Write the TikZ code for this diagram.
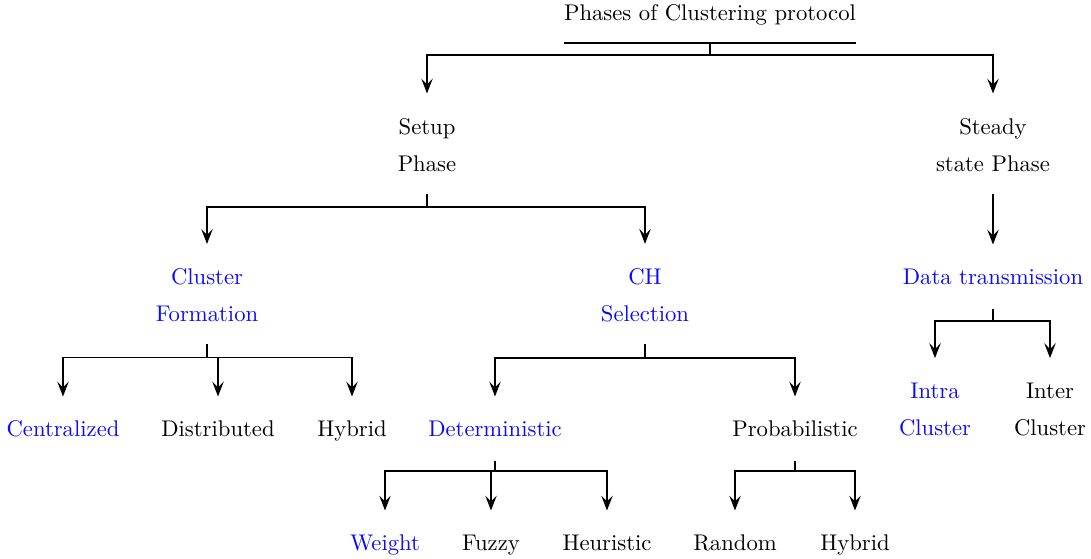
\documentclass[tikz,border=0pt]{standalone}
\usepackage{tikz}
\usetikzlibrary{arrows.meta}
\definecolor{cBlue}{HTML}{0A0AFF}

\begin{document}
\begin{tikzpicture}[x=0.441pt,y=-0.441pt,
  one/.style={inner sep=0pt,text height=1.5ex,text depth=.25ex},
  two/.style={inner sep=0pt,align=center},
  hi/.style={text=cBlue},
  ar/.style={-{Stealth[length=6.5pt,width=5pt,inset=2.5pt]},thick,
             shorten <=9.5pt,shorten >=10.8pt}]
\useasboundingbox (0,0) rectangle (1091,558);

\node[one,inner ysep=8.6pt] (root) at (710,14.5) {Phases of Clustering protocol};
\draw[line width=1pt] (root.south west) -- (root.south east);

\node[two] (setup) at (427,145) {Setup\\[4.3pt]Phase};
\node[two] (steady) at (993,145) {Steady\\[4.3pt]state Phase};

\node[two,hi] (cluster) at (207,295.5) {Cluster\\[4.3pt]Formation};
\node[two,hi] (chsel) at (645,295.5) {CH\\[4.3pt]Selection};
\node[one,hi] (data) at (993,278) {Data transmission};

\node[one,hi] (central) at (63,430) {Centralized};
\node[one] (distrib) at (218,430) {Distributed};
\node[one] (hybrid) at (352,430) {Hybrid};
\node[one,hi] (determ) at (495,430) {Deterministic};
\node[one] (probab) at (795,430) {Probabilistic};
\node[two,hi] (intra) at (935,409.5) {Intra\\[4.3pt]Cluster};
\node[two] (inter) at (1050,409.5) {Inter\\[4.3pt]Cluster};

\node[one,hi] (weight) at (385,544) {Weight};
\node[one] (fuzzy) at (491,544) {Fuzzy};
\node[one] (heur) at (607,544) {Heuristic};
\node[one] (random) at (735,544) {Random};
\node[one] (hybridb) at (855,544) {Hybrid};

% first level
\draw[ar,shorten <=0pt] (root.south) -- ++(0,12) -| (setup.north);
\draw[ar,shorten <=0pt] (root.south) -- ++(0,12) -| (steady.north);

% setup phase
\draw[ar] (setup.south) -- ++(0,35) -| (cluster.north);
\draw[ar] (setup.south) -- ++(0,35) -| (chsel.north);

% steady state phase
\draw[ar] (steady.south) -- (data.north);
\draw[ar] (data.south) -- ++(0,34) -| (intra.north);
\draw[ar] (data.south) -- ++(0,34) -| (inter.north);

% cluster formation
\draw[ar] (cluster.south) -- ++(0,35) -| (central.north);
\draw[ar] (cluster.south) -- ++(0,35) -| (distrib.north);
\draw[ar] (cluster.south) -- ++(0,35) -| (hybrid.north);

% CH selection
\draw[ar] (chsel.south) -- ++(0,35) -| (determ.north);
\draw[ar] (chsel.south) -- ++(0,35) -| (probab.north);

\draw[ar] (determ.south) -- ++(0,32) -| (weight.north);
\draw[ar] (determ.south) -- ++(0,32) -| (fuzzy.north);
\draw[ar] (determ.south) -- ++(0,32) -| (heur.north);
\draw[ar] (probab.south) -- ++(0,32) -| (random.north);
\draw[ar] (probab.south) -- ++(0,32) -| (hybridb.north);
\end{tikzpicture}
\end{document}
